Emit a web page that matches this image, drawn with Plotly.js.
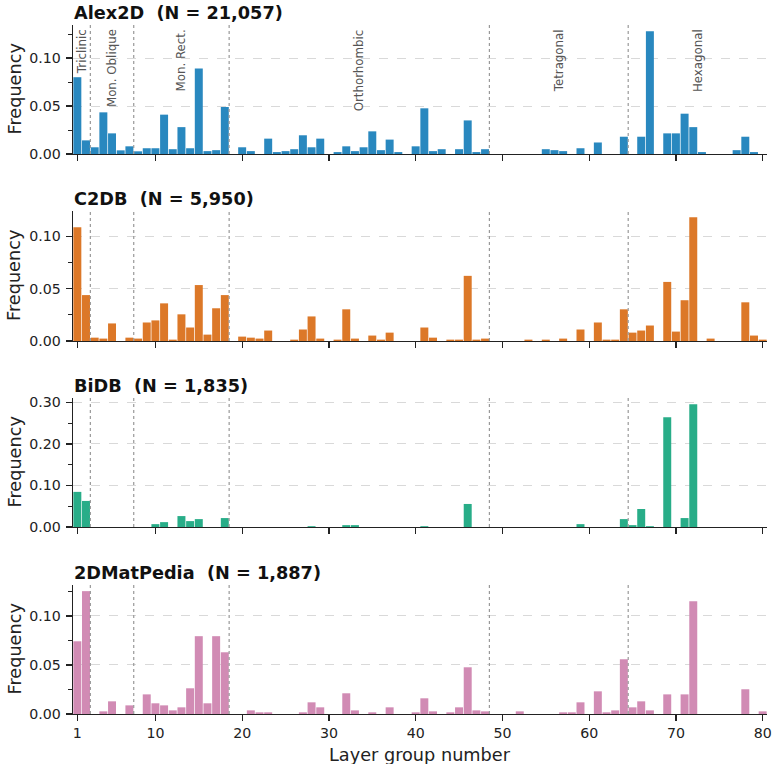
<!DOCTYPE html>
<html><head><meta charset="utf-8">
<script src="https://cdn.plot.ly/plotly-3.0.1.min.js"></script>
<style>html,body{margin:0;padding:0;background:#fff}</style>
</head><body><div id="chart" style="width:778px;height:764px"></div>
<script>
// ---------- DATA ----------
const layerGroups = [1,2,3,4,5,6,7,8,9,10,11,12,13,14,15,16,17,18,19,20,21,22,23,24,25,26,27,28,29,30,31,32,33,34,35,36,37,38,39,40,41,42,43,44,45,46,47,48,49,50,51,52,53,54,55,56,57,58,59,60,61,62,63,64,65,66,67,68,69,70,71,72,73,74,75,76,77,78,79,80];

const alex2dFreq = [0.080,0.0142,0.007,0.0434,0.0215,0.0038,0.008,0.0028,0.006,0.006,
  0.041,0.005,0.028,0.006,0.089,0.003,0.004,0.049,0,0.007,
  0.003,0,0.016,0.002,0.003,0.005,0.0195,0.007,0.016,0,
  0.002,0.008,0.003,0.007,0.0236,0.004,0.015,0.002,0,0.008,
  0.0476,0.003,0.005,0,0.005,0.035,0.002,0.005,0,0,
  0,0,0,0,0.005,0.004,0.003,0,0.006,0,
  0.012,0,0,0.018,0,0.018,0.128,0,0.0215,0.0215,
  0.042,0.028,0.002,0,0,0,0.004,0.018,0.002,0];

const c2dbFreq = [0.1087,0.0439,0.0032,0.0023,0.0168,0,0.0032,0.0023,0.0177,0.0197,
  0.036,0.0013,0.0255,0.0129,0.0535,0.0061,0.0313,0.0439,0,0.0042,
  0.0032,0.0023,0.010,0,0,0.0013,0.011,0.0235,0.0023,0,
  0.0013,0.0303,0.0023,0,0.0052,0.0013,0.008,0,0,0,
  0.0129,0.0032,0,0.0013,0.0013,0.0623,0.0013,0.0023,0,0,
  0,0,0.0013,0,0.0013,0,0.0023,0,0.011,0,
  0.0177,0.0013,0.0013,0.0303,0.008,0.010,0.0148,0,0.0565,0.009,
  0.039,0.1184,0,0.0023,0,0,0,0.037,0.0052,0.0013];

const bidbFreq = [0.0846,0.0628,0,0,0,0,0,0,0,0.0069,
  0.0117,0,0.0263,0.0142,0.019,0,0,0.0215,0,0,
  0,0,0,0,0,0,0,0.002,0,0,
  0,0.0045,0.0045,0,0,0,0,0,0,0,
  0.002,0,0,0,0,0.0555,0,0,0,0,
  0,0,0,0,0,0,0,0,0.0069,0,
  0,0,0,0.019,0.0045,0.0433,0.002,0,0.2644,0,
  0.0215,0.2959,0,0,0,0,0,0,0,0];

const matpediaFreq = [0.0741,0.1252,0,0.0027,0.0129,0,0.0088,0,0.020,0.0109,
  0.0088,0.0037,0.0068,0.0262,0.0793,0.0109,0.0793,0.0629,0,0,
  0.0037,0.0017,0.0017,0,0,0,0.0017,0.0119,0.0068,0,
  0,0.0211,0.0037,0,0.0017,0,0.0068,0,0,0.0017,
  0.016,0.0027,0,0.0017,0.0068,0.0476,0.0037,0.0027,0,0,
  0,0.0027,0,0,0,0,0.0017,0.0017,0.0119,0,
  0.0231,0.0017,0.0037,0.0558,0.0068,0.0129,0.0037,0,0.020,0,
  0.020,0.115,0,0,0,0,0,0.0252,0,0.0027];

const datasetNames = ['Alex2D', 'C2DB', 'BiDB', '2DMatPedia'];
const datasetCounts = ['21,057', '5,950', '1,835', '1,887'];
const datasetValues = [alex2dFreq, c2dbFreq, bidbFreq, matpediaFreq];

const systemNames = ['Triclinic', 'Mon. Oblique', 'Mon. Rect.', 'Orthorhombic', 'Tetragonal', 'Hexagonal'];
const systemLastGroup = [2, 7, 18, 48, 64, 80];

const xTickVals = [1, 10, 20, 30, 40, 50, 60, 70, 80];
const xTitle = 'Layer group number';
const yTitle = 'Frequency';

// ---------- STYLE ----------
const colors = ['#2988bf', '#dc7828', '#28ad88', '#d18bb4'];
const yDtick = [0.05, 0.05, 0.1, 0.05];
const yMinor = [0.025, 0.025, 0.05, 0.025];
const FONT = 'DejaVu Sans, sans-serif';
const TICK_SIZE = 14.2, TITLE_SIZE = 17.7;

const W = 778, H = 764;
const mL = 73, mR = 11, mT = 25, mB = 50;
const plotH = H - mT - mB;
const panelPx = [[25, 154], [211, 341], [398, 527], [585, 714]];

const traces = [];
const layout = {
  width: W, height: H,
  margin: {l: mL, r: mR, t: mT, b: mB, pad: 0},
  paper_bgcolor: '#fff', plot_bgcolor: '#fff',
  showlegend: false,
  font: {family: FONT, size: TICK_SIZE, color: '#222'},
  annotations: [], shapes: []
};

datasetValues.forEach((vals, i) => {
  const k = i + 1;
  const xa = 'x' + (k === 1 ? '' : k), ya = 'y' + (k === 1 ? '' : k);
  const xKey = 'xaxis' + (k === 1 ? '' : k), yKey = 'yaxis' + (k === 1 ? '' : k);
  const maxV = Math.max(...vals);
  traces.push({
    type: 'bar', x: layerGroups, y: vals, xaxis: xa, yaxis: ya,
    marker: {color: colors[i], line: {width: 0}}, width: 0.92,
    hoverinfo: 'x+y'
  });
  const top = (H - mB - panelPx[i][0]) / plotH;
  const bot = (H - mB - panelPx[i][1]) / plotH;
  layout[xKey] = {
    domain: [0, 1], anchor: ya, range: [0.5, 80.5],
    tickmode: 'array', tickvals: xTickVals, showticklabels: i === 3,
    ticks: 'outside', ticklen: 6, tickwidth: 1.3, tickcolor: '#222',
    showline: true, linecolor: '#222', linewidth: 1.4,
    showgrid: false, zeroline: false,
    tickfont: {size: TICK_SIZE, color: '#222'},
    matches: i === 0 ? undefined : 'x'
  };
  layout[yKey] = {
    domain: [bot, top], anchor: xa, range: [0, maxV * 1.05],
    dtick: yDtick[i], tick0: 0, tickformat: '.2f',
    ticks: 'outside', ticklen: 6, tickwidth: 1.3, tickcolor: '#222',
    ticklabelstandoff: 2,
    minor: {dtick: yMinor[i], tick0: 0, ticks: 'outside', ticklen: 3.5, tickwidth: 1, tickcolor: '#222', showgrid: false},
    showline: true, linecolor: '#222', linewidth: 1.4,
    showgrid: true, gridcolor: '#d0d0d0', griddash: 'dash', gridwidth: 0.8,
    zeroline: false,
    tickfont: {size: TICK_SIZE, color: '#222'}
  };
  // y-axis title
  layout.annotations.push({
    text: yTitle, xref: 'paper', x: 0, xanchor: 'center', xshift: -59,
    yref: ya + ' domain', y: 0.5, yanchor: 'middle', textangle: -90,
    showarrow: false, font: {size: TITLE_SIZE, color: '#222', family: FONT}
  });
  // panel title
  layout.annotations.push({
    text: '<b>' + datasetNames[i] + '\u00a0\u00a0(N = ' + datasetCounts[i] + ')</b>',
    xref: 'paper', x: 0, xanchor: 'left', yref: ya + ' domain', y: 1, yanchor: 'bottom',
    yshift: 0, xshift: -1, showarrow: false, font: {size: TITLE_SIZE, color: '#111', family: FONT}
  });
  // crystal-system boundaries
  systemLastGroup.slice(0, -1).forEach(g => {
    layout.shapes.push({
      type: 'line', xref: xa, yref: ya + ' domain', x0: g + 0.5, x1: g + 0.5, y0: 0, y1: 1,
      line: {color: '#999', width: 1.2, dash: 'dot'}, layer: 'above'
    });
  });
  if (i === 0) {
    systemNames.forEach((name, j) => {
      const start = j === 0 ? 0.5 : systemLastGroup[j - 1] + 0.5;
      const end = systemLastGroup[j] + 0.5;
      layout.annotations.push({
        text: name, xref: xa, x: (start + end) / 2, xanchor: 'center',
        yref: ya + ' domain', y: 1, yanchor: 'top', yshift: -2,
        textangle: -90, showarrow: false, font: {size: 11.8, color: '#555', family: FONT}
      });
    });
  }
});

// x-axis title
layout.annotations.push({
  text: xTitle, xref: 'paper', x: 0.5, xanchor: 'center',
  yref: 'paper', y: 0, yanchor: 'middle', yshift: -41,
  showarrow: false, font: {size: TITLE_SIZE, color: '#222', family: FONT}
});

Plotly.newPlot('chart', traces, layout, {displayModeBar: false, staticPlot: true});
</script></body></html>
